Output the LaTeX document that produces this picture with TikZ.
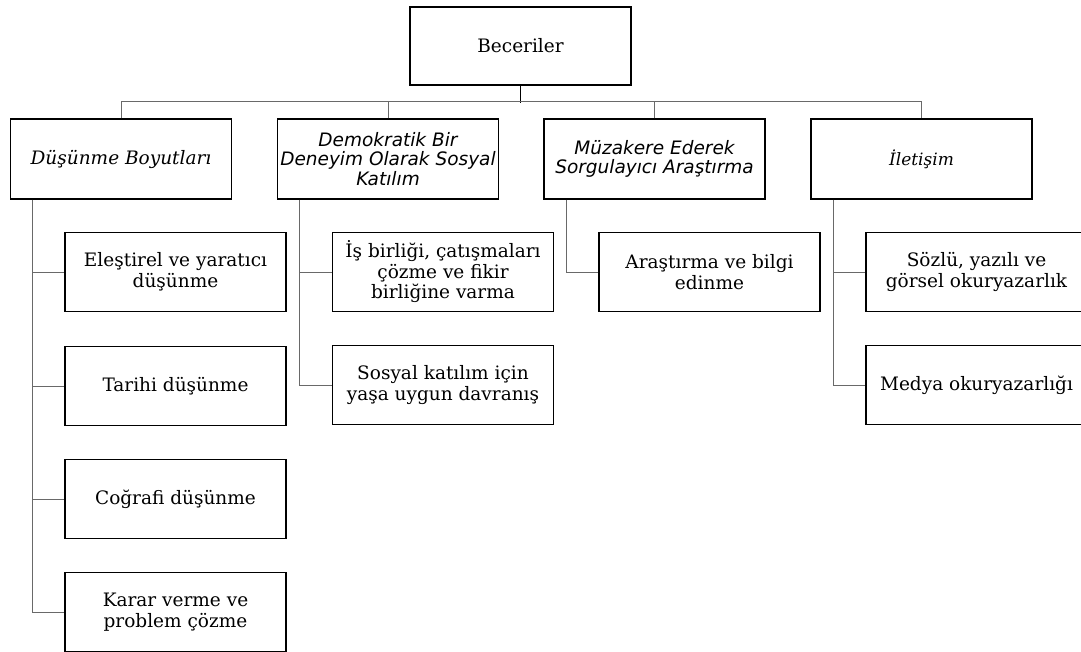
\documentclass[tikz,border=0pt]{standalone}
\usepackage{fontspec}
\setmainfont{DejaVu Serif}
\newfontfamily\yanfont{DejaVu Sans}
\definecolor{cizgi}{RGB}{105,105,105}

\begin{document}
\begin{tikzpicture}[x=1pt, y=-1pt,
    kutu/.style={draw=black, line width=1.3pt, minimum width=221pt,
      minimum height=79pt, inner sep=0pt, align=center,
      font=\fontsize{18.5}{20.5}\selectfont},
    ustkutu/.style={kutu, minimum height=80pt,
      font=\fontsize{18.5}{19.5}\selectfont\itshape},
    sanskutu/.style={kutu, minimum height=80pt,
      font=\yanfont\fontsize{18.5}{19.5}\selectfont\itshape},
    baglanti/.style={draw=cizgi, line width=0.9pt}
    ]
    \useasboundingbox (0,0) rectangle (1081,651);

    % kok
    \node[kutu, minimum height=78pt] (beceriler) at (520.5,46) {Beceriler};

    % ust duzey
    \node[ustkutu] (dusunme) at (121,159) {Düşünme Boyutları};
    \node[sanskutu] (demokratik) at (388,159)
      {Demokratik Bir\\Deneyim Olarak Sosyal\\Katılım};
    \node[sanskutu] (muzakere) at (654.5,159)
      {Müzakere Ederek\\Sorgulayıcı Araştırma};
    \node[ustkutu, font=\fontsize{17}{19}\selectfont\itshape] (iletisim)
      at (921.5,159) {İletişim};

    % alt duzey
    \node[kutu] (elestirel) at (175.5,272) {Eleştirel ve yaratıcı\\düşünme};
    \node[kutu] (tarihi) at (175.5,386) {Tarihi düşünme};
    \node[kutu] (cografi) at (175.5,499) {Coğrafi düşünme};
    \node[kutu] (karar) at (175.5,612) {Karar verme ve\\problem çözme};

    \node[kutu] (isbirligi) at (443,272)
      {İş birliği, çatışmaları\\çözme ve fikir\\birliğine varma};
    \node[kutu] (sosyal) at (443,385)
      {Sosyal katılım için\\yaşa uygun davranış};

    \node[kutu] (arastirma) at (709.5,272) {Araştırma ve bilgi\\edinme};

    \node[kutu] (sozlu) at (976.5,272) {Sözlü, yazılı ve\\görsel okuryazarlık};
    \node[kutu] (medya) at (976.5,385) {Medya okuryazarlığı};

    % baglantilar
    \draw[black, line width=1.3pt] (beceriler.south) -- ++(0,17);
    \draw[baglanti] (dusunme.north) -- ++(0,-17) -| (iletisim.north);
    \draw[baglanti] (demokratik.north) -- ++(0,-17);
    \draw[baglanti] (muzakere.north) -- ++(0,-17);

    \coordinate (d1) at ([xshift=23pt]dusunme.south west);
    \draw[baglanti] (d1) |- (karar.west);
    \draw[baglanti] (d1 |- elestirel.west) -- (elestirel.west);
    \draw[baglanti] (d1 |- tarihi.west) -- (tarihi.west);
    \draw[baglanti] (d1 |- cografi.west) -- (cografi.west);

    \coordinate (d2) at ([xshift=23pt]demokratik.south west);
    \draw[baglanti] (d2) |- (sosyal.west);
    \draw[baglanti] (d2 |- isbirligi.west) -- (isbirligi.west);

    \coordinate (d3) at ([xshift=23pt]muzakere.south west);
    \draw[baglanti] (d3) |- (arastirma.west);

    \coordinate (d4) at ([xshift=23pt]iletisim.south west);
    \draw[baglanti] (d4) |- (medya.west);
    \draw[baglanti] (d4 |- sozlu.west) -- (sozlu.west);
\end{tikzpicture}
\end{document}
